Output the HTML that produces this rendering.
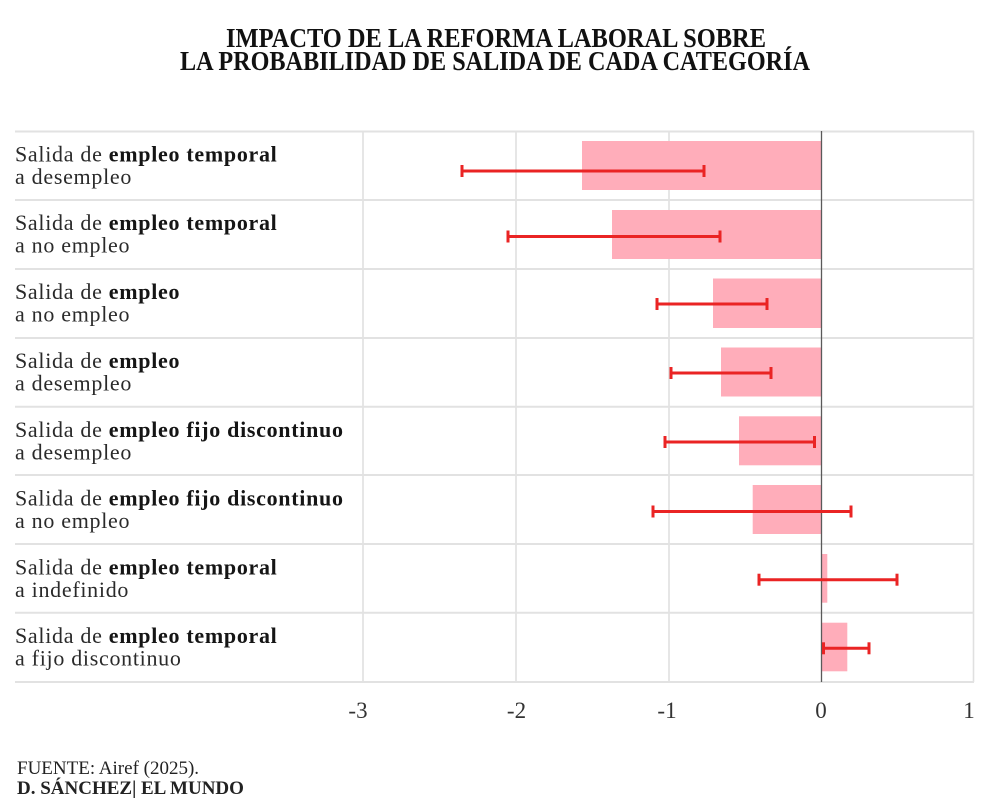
<!DOCTYPE html>
<html>
<head>
<meta charset="utf-8">
<style>
  html,body{margin:0;padding:0;background:#fff;}
  svg{display:block;}
  .t{font-family:"Liberation Serif",serif;font-weight:bold;font-size:27px;fill:#111;}
  .lb{font-family:"Liberation Serif",serif;font-size:22px;letter-spacing:0.7px;fill:#2a2a2a;}
  .lb tspan.b{font-weight:bold;fill:#151515;}
  .tk{font-family:"Liberation Serif",serif;font-size:23px;fill:#333;}
  .ft{font-family:"Liberation Serif",serif;font-size:19px;fill:#222;}
</style>
</head>
<body>
<svg width="990" height="804" viewBox="0 0 990 804" xmlns="http://www.w3.org/2000/svg">
  <rect width="990" height="804" fill="#fff"/>
  <!-- Title -->
  <text class="t" x="226" y="47" textLength="540" lengthAdjust="spacingAndGlyphs">IMPACTO DE LA REFORMA LABORAL SOBRE</text>
  <text class="t" x="180" y="70" textLength="630" lengthAdjust="spacingAndGlyphs">LA PROBABILIDAD DE SALIDA DE CADA CATEGORÍA</text>

  <!-- vertical gridlines -->
  <g stroke="#e0e0e0" stroke-width="1.6">
    <line x1="363" y1="131" x2="363" y2="682"/>
    <line x1="516" y1="131" x2="516" y2="682"/>
    <line x1="669" y1="131" x2="669" y2="682"/>
    <line x1="973.5" y1="131" x2="973.5" y2="682"/>
  </g>
  <!-- row borders -->
  <g stroke="#e2e2e2" stroke-width="2">
    <line x1="15" y1="131.5" x2="974" y2="131.5"/>
    <line x1="15" y1="200" x2="974" y2="200"/>
    <line x1="15" y1="269" x2="974" y2="269"/>
    <line x1="15" y1="338" x2="974" y2="338"/>
    <line x1="15" y1="406.7" x2="974" y2="406.7"/>
    <line x1="15" y1="475" x2="974" y2="475"/>
    <line x1="15" y1="544" x2="974" y2="544"/>
    <line x1="15" y1="612.7" x2="974" y2="612.7"/>
    <line x1="15" y1="682" x2="974" y2="682"/>
  </g>

  <!-- bars -->
  <g fill="#ffadba">
    <rect x="582" y="141" width="239.5" height="49"/>
    <rect x="612" y="210" width="209.5" height="49"/>
    <rect x="713" y="278.5" width="108.5" height="49.5"/>
    <rect x="721" y="347.5" width="100.5" height="49"/>
    <rect x="739" y="416.3" width="82.5" height="49"/>
    <rect x="752.7" y="485" width="68.8" height="49"/>
    <rect x="821.5" y="554" width="5.8" height="48.7"/>
    <rect x="821.5" y="622.7" width="25.8" height="48.6"/>
  </g>

  <!-- zero line -->
  <line x1="821.5" y1="131" x2="821.5" y2="682" stroke="#5a5a5a" stroke-width="1.3"/>

  <!-- error bars -->
  <g stroke="#ea2424" stroke-width="3" fill="none">
    <line x1="462" y1="171" x2="704" y2="171"/><line x1="462" y1="165" x2="462" y2="177"/><line x1="704" y1="165" x2="704" y2="177"/>
    <line x1="508" y1="236.5" x2="720" y2="236.5"/><line x1="508" y1="230.5" x2="508" y2="242.5"/><line x1="720" y1="230.5" x2="720" y2="242.5"/>
    <line x1="657" y1="304" x2="767" y2="304"/><line x1="657" y1="298" x2="657" y2="310"/><line x1="767" y1="298" x2="767" y2="310"/>
    <line x1="671" y1="373" x2="771" y2="373"/><line x1="671" y1="367" x2="671" y2="379"/><line x1="771" y1="367" x2="771" y2="379"/>
    <line x1="665" y1="442" x2="814.5" y2="442"/><line x1="665" y1="436" x2="665" y2="448"/><line x1="814.5" y1="436" x2="814.5" y2="448"/>
    <line x1="653" y1="511.5" x2="851" y2="511.5"/><line x1="653" y1="505.5" x2="653" y2="517.5"/><line x1="851" y1="505.5" x2="851" y2="517.5"/>
    <line x1="759" y1="579.7" x2="897" y2="579.7"/><line x1="759" y1="573.7" x2="759" y2="585.7"/><line x1="897" y1="573.7" x2="897" y2="585.7"/>
    <line x1="823.5" y1="648.3" x2="869" y2="648.3"/><line x1="823.5" y1="642.3" x2="823.5" y2="654.3"/><line x1="869" y1="642.3" x2="869" y2="654.3"/>
  </g>

  <!-- row labels -->
  <text class="lb" x="15" y="161.5">Salida de <tspan class="b">empleo temporal</tspan></text>
  <text class="lb" x="15" y="184">a desempleo</text>

  <text class="lb" x="15" y="230">Salida de <tspan class="b">empleo temporal</tspan></text>
  <text class="lb" x="15" y="252.5">a no empleo</text>

  <text class="lb" x="15" y="299">Salida de <tspan class="b">empleo</tspan></text>
  <text class="lb" x="15" y="321.5">a no empleo</text>

  <text class="lb" x="15" y="368">Salida de <tspan class="b">empleo</tspan></text>
  <text class="lb" x="15" y="390.5">a desempleo</text>

  <text class="lb" x="15" y="437">Salida de <tspan class="b">empleo fijo discontinuo</tspan></text>
  <text class="lb" x="15" y="459.5">a desempleo</text>

  <text class="lb" x="15" y="505.5">Salida de <tspan class="b">empleo fijo discontinuo</tspan></text>
  <text class="lb" x="15" y="528">a no empleo</text>

  <text class="lb" x="15" y="574.5">Salida de <tspan class="b">empleo temporal</tspan></text>
  <text class="lb" x="15" y="597">a indefinido</text>

  <text class="lb" x="15" y="643">Salida de <tspan class="b">empleo temporal</tspan></text>
  <text class="lb" x="15" y="665.5">a fijo discontinuo</text>

  <!-- tick labels -->
  <text class="tk" x="358" y="718" text-anchor="middle">-3</text>
  <text class="tk" x="516.5" y="718" text-anchor="middle">-2</text>
  <text class="tk" x="667" y="718" text-anchor="middle">-1</text>
  <text class="tk" x="821" y="718" text-anchor="middle">0</text>
  <text class="tk" x="969" y="718" text-anchor="middle">1</text>

  <!-- footer -->
  <text class="ft" x="17" y="774">FUENTE: Airef (2025).</text>
  <text class="ft" x="17" y="794" font-weight="bold" fill="#111">D. SÁNCHEZ| EL MUNDO</text>
</svg>
</body>
</html>
